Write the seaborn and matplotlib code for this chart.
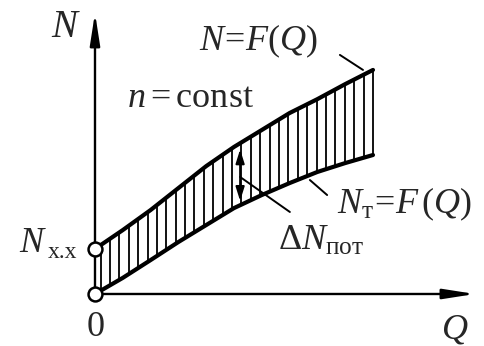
import numpy as np
import pandas as pd
import matplotlib
matplotlib.use("Agg")
import matplotlib.pyplot as plt
import seaborn as sns

# Pump characteristics at constant speed: input power and useful power vs. flow
flow = [0, 1, 2, 3, 4, 5, 6, 7, 8, 9, 10]
power_input = [1.62, 2.30, 3.02, 3.81, 4.60, 5.29, 5.90, 6.51, 7.01, 7.55, 8.06]
power_useful = [0.0, 0.58, 1.22, 1.87, 2.48, 3.09, 3.56, 3.99, 4.39, 4.71, 5.00]
no_load_power = 1.62

sns.set_theme(style="white")
plt.rcParams["font.family"] = ["Liberation Serif", "DejaVu Serif"]
plt.rcParams["mathtext.fontset"] = "custom"
plt.rcParams["mathtext.rm"] = "Liberation Serif"
plt.rcParams["mathtext.it"] = "Liberation Serif:italic"

df = pd.DataFrame({"Q": flow * 2,
                   "N": power_input + power_useful,
                   "curve": ["N"] * len(flow) + ["Nt"] * len(flow)})

fig = plt.figure(figsize=(4.85, 3.46), dpi=100)
ax = fig.add_axes([0, 0, 1, 1])
ax.set_xlim(-3.417, 14.029)
ax.set_ylim(-1.871, 10.576)
ax.axis("off")

# loss band hatching between the two curves
hatch_q = np.linspace(0.2, 10, 30)
ax.vlines(hatch_q, np.interp(hatch_q, flow, power_useful),
          np.interp(hatch_q, flow, power_input), color="black", lw=1.3, zorder=2)

sns.lineplot(data=df, x="Q", y="N", units="curve", estimator=None,
             color="black", lw=3.0, ax=ax, zorder=3, legend=False)
ax.set_xlabel("")
ax.set_ylabel("")

# axes with arrows
arrow_kw = dict(arrowstyle="-|>,head_length=1.6,head_width=0.25", lw=1.7,
                color="black", shrinkA=0, shrinkB=0)
ax.annotate("", xy=(0, 10.11), xytext=(0, 0), arrowprops=arrow_kw, zorder=4)
ax.annotate("", xy=(13.67, 0), xytext=(0, 0), arrowprops=arrow_kw, zorder=4)

# no-load and origin points
ax.plot([0, 0], [0, no_load_power], "o", ms=10, mfc="white", mec="black",
        mew=1.8, zorder=5)

# loss double arrow
ax.annotate("", xy=(5.22, 5.2), xytext=(5.22, 3.35),
            arrowprops=dict(arrowstyle="<|-|>,head_length=0.7,head_width=0.22",
                            lw=1.4, color="black", shrinkA=0, shrinkB=0), zorder=4)

# leader lines
for (x0, y0), (x1, y1) in [((8.81, 8.60), (9.64, 8.06)),
                           ((7.73, 4.10), (8.35, 3.56)),
                           ((5.22, 4.21), (7.01, 2.95))]:
    ax.plot([x0, x1], [y0, y1], color="black", lw=1.4, zorder=4)

fs = 26
ax.text(-1.04, 9.60, "$N$", fontsize=28, ha="center", va="center")
ax.text(3.75, 8.78, r"$N\!=\!F(Q)$", fontsize=fs, ha="left", va="baseline")
ax.text(1.15, 6.73, r"$n = \mathrm{const}$", fontsize=fs, ha="left", va="baseline")
ax.text(8.70, 2.91, r"$N_{\mathrm{т}}\!=\!F\,(Q)$", fontsize=fs, ha="left", va="baseline")
ax.text(6.58, 1.58, r"$\Delta N_{\mathrm{пот}}$", fontsize=fs, ha="left", va="baseline")
ax.text(-2.75, 1.51, "$N$", fontsize=fs, ha="left", va="baseline")
ax.text(-1.70, 1.28, "x.x", fontsize=17, ha="left", va="baseline")
ax.text(0.04, -1.19, "0", fontsize=fs, ha="center", va="center")
ax.text(12.95, -1.29, "$Q$", fontsize=fs, ha="center", va="center")

fig.savefig("out.png", dpi=100)
